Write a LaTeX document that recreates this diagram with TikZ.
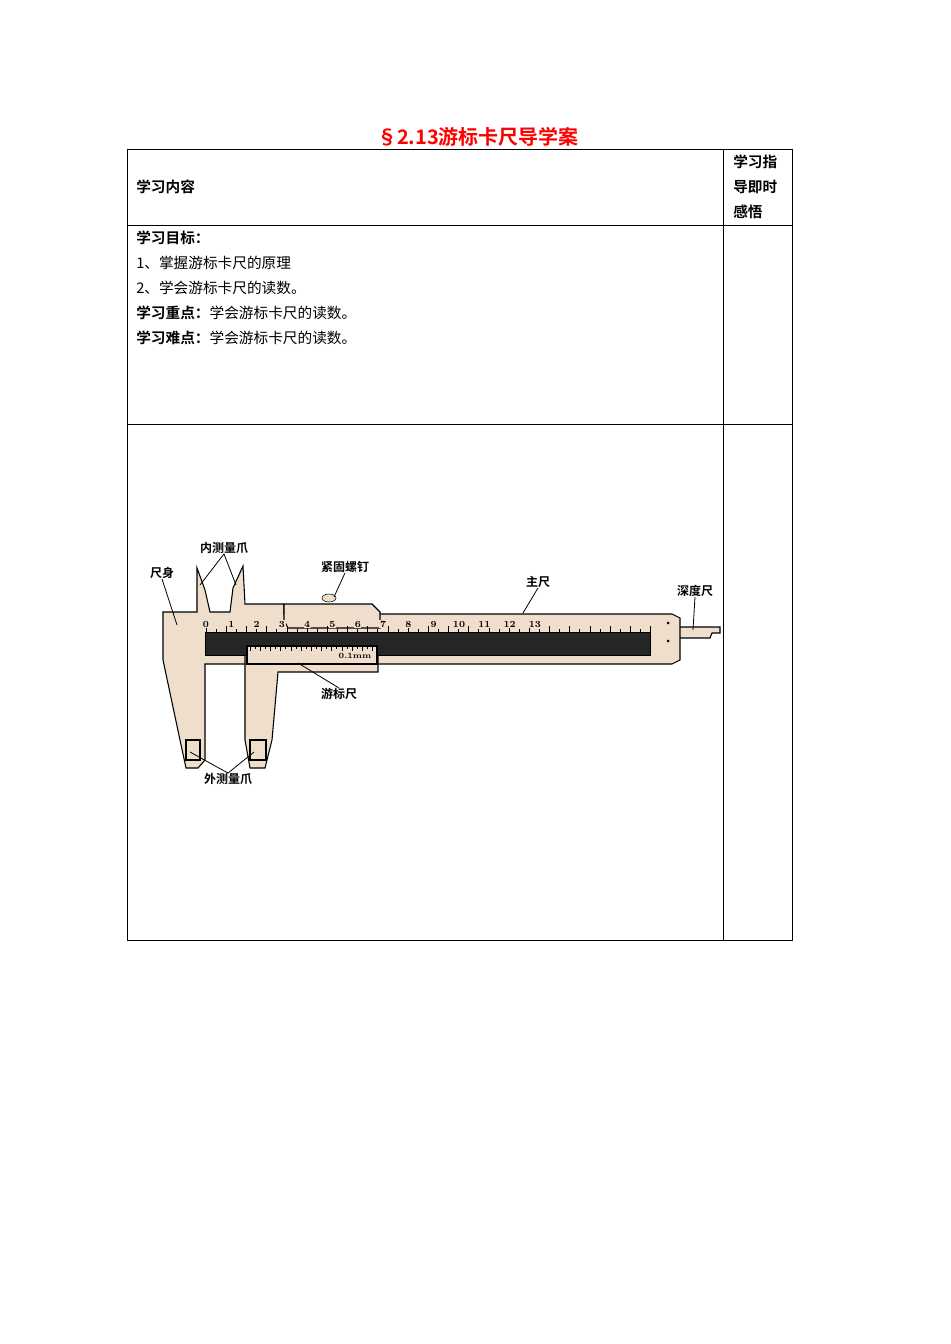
\documentclass[tikz,border=0pt]{standalone}
\usepackage{fontspec}
\newfontfamily\cjk{Noto Sans CJK SC}
\newfontfamily\cjkb{Noto Sans CJK SC Bold}
\begin{document}
\begin{tikzpicture}[x=0.75pt,y=-0.75pt,
  tbl/.style={draw=black,line width=0.6pt},
  txt/.style={anchor=west,inner sep=0pt,font=\cjk\fontsize{11}{13}\selectfont},
  lbl/.style={inner sep=0pt,font=\cjkb\fontsize{9}{10}\selectfont},
  body/.style={fill=beige,draw=black,line width=0.8pt},
  lead/.style={draw=black,line width=0.6pt}]
\definecolor{beige}{RGB}{240,222,204}
\useasboundingbox (0,0) rectangle (950,1344);
\node[inner sep=0pt,text=red,font=\cjkb\fontsize{15}{17}\selectfont] (title) at (478,137) {§2.13游标卡尺导学案};
% table
\draw[tbl] (127,149) rectangle (792,940);
\draw[tbl] (723,149) -- (723,940);
\draw[tbl] (127,225) -- (792,225);
\draw[tbl] (127,424) -- (792,424);
\node[txt,font=\cjkb\fontsize{11}{13}\selectfont] (h1) at (136,187) {学习内容};
\node[txt,font=\cjkb\fontsize{11}{13}\selectfont] (h2a) at (733,162) {学习指};
\node[txt,font=\cjkb\fontsize{11}{13}\selectfont] (h2b) at (733,187) {导即时};
\node[txt,font=\cjkb\fontsize{11}{13}\selectfont] (h2c) at (733,212) {感悟};
\node[txt,font=\cjkb\fontsize{11}{13}\selectfont] (a1) at (136,238) {学习目标：};
\node[txt] (a2) at (136,263) {1、掌握游标卡尺的原理};
\node[txt] (a3) at (136,288) {2、学会游标卡尺的读数。};
\node[txt] (a4) at (136,313) {{\cjkb 学习重点：}学会游标卡尺的读数。};
\node[txt] (a5) at (136,338) {{\cjkb 学习难点：}学会游标卡尺的读数。};
% caliper
\draw[body] (672,627) -- (720,627) -- (720,633) -- (712,633) -- (710,638) -- (672,638) -- cycle;
\draw[body] (197,612) -- (197,568) -- (205,590) -- (210,612) -- (230,612) -- (233,588) -- (243,566) -- (245,604) -- (284,604) -- (284,614) -- (672,614) -- (680,618) -- (680,660) -- (672,664) -- (205,664) -- (205,760) -- (198,768) -- (186,768) -- (180,740) -- (163,660) -- (163,612) -- cycle;
\draw[body] (245,644) -- (378,644) -- (378,672) -- (278,672) -- (272,740) -- (265,768) -- (250,768) -- (245,740) -- cycle;
\draw[body] (284,604) -- (372,604) -- (380,612) -- (380,628) -- (288,628) -- (284,620) -- cycle;
\draw[black,fill=black!85] (205,632) rectangle (650,655);
\draw[body] (247,646) rectangle (377,664);
\foreach \i in {0,...,24} \draw[black] ({250+\i*5.1},646) -- ({250+\i*5.1},{651-2*mod(\i,2)});
\draw[body] (186,740) rectangle (200,760);
\draw[body] (250,740) rectangle (266,760);
\draw[black,fill=beige] (329,598) ellipse (7 and 4);
\foreach \i in {0,...,44} \draw[black] ({206+\i*10.1},{626+3*mod(\i,2)}) -- ({206+\i*10.1},632);
\foreach \i in {0,...,13} \node[inner sep=0.5pt,fill=beige,font=\bfseries\fontsize{7}{8}\selectfont] (n\i) at ({206+\i*25.3},624) {\i};
\fill (668,623) circle (1.5) (668,641) circle (1.5);
\node[inner sep=0pt,font=\bfseries\fontsize{6}{7}\selectfont] (v01) at (355,656) {0.1mm};
% labels
\node[lbl] (L1) at (162,573) {尺身};
\node[lbl] (L2) at (224,548) {内测量爪};
\node[lbl] (L3) at (345,567) {紧固螺钉};
\node[lbl] (L4) at (538,582) {主尺};
\node[lbl] (L5) at (695,591) {深度尺};
\node[lbl] (L6) at (339,694) {游标尺};
\node[lbl] (L7) at (228,779) {外测量爪};
\coordinate (p1) at (177,625); \coordinate (p2a) at (200,585); \coordinate (p2b) at (236,585);
\coordinate (p3) at (334,597); \coordinate (p4) at (523,613); \coordinate (p5) at (693,630);
\coordinate (p6) at (298,663); \coordinate (p7a) at (190,752); \coordinate (p7b) at (254,752);
\draw[lead] (L1.south) -- (p1); \draw[lead] (L2.south) -- (p2a); \draw[lead] (L2.south) -- (p2b);
\draw[lead] (L3.south) -- (p3); \draw[lead] (L4.south) -- (p4); \draw[lead] (L5.south) -- (p5);
\draw[lead] (L6.north) -- (p6); \draw[lead] (L7.north) -- (p7a); \draw[lead] (L7.north) -- (p7b);
\end{tikzpicture}
\end{document}
